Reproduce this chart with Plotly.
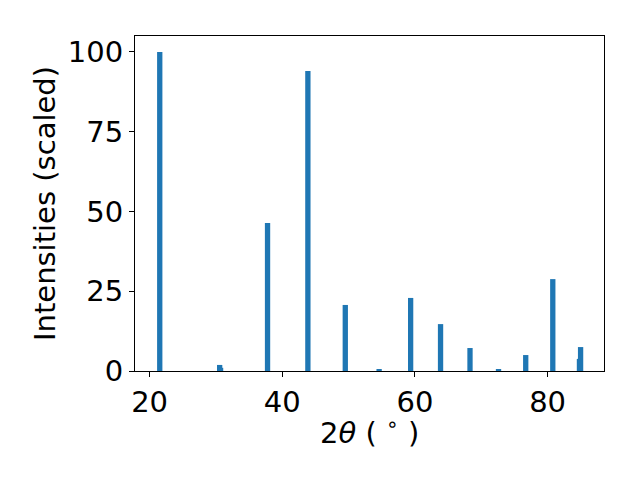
import plotly.graph_objects as go

two_theta = [21.53, 30.56, 30.70, 37.78, 43.86, 49.50, 54.60, 59.35, 63.86, 68.30, 72.60, 76.70, 80.78, 84.80, 84.97]
intensity = [100.0, 1.9, 1.0, 46.4, 94.0, 20.7, 0.6, 22.9, 14.7, 7.2, 0.4, 5.0, 28.8, 3.8, 7.5]
x_ticks = [20, 40, 60, 80]
y_ticks = [0, 25, 50, 75, 100]

fig = go.Figure(go.Bar(x=two_theta, y=intensity, width=0.8, marker=dict(color="#1f77b4", line=dict(width=0))))

font = dict(family="DejaVu Sans", size=29, color="black")
fig.update_layout(
    width=640, height=480,
    margin=dict(l=127, r=44, t=28, b=117),
    paper_bgcolor="white", plot_bgcolor="white",
    showlegend=False, barmode="overlay",
    font=font,
    xaxis=dict(range=[17.8, 88.5], tickvals=x_ticks, ticks="outside", ticklen=5, tickwidth=1, tickcolor="black",
               showline=True, linecolor="black", linewidth=1, mirror=True, showgrid=False, zeroline=False,
               automargin=False),
    yaxis=dict(range=[0, 105], tickvals=y_ticks, ticks="outside", ticklen=5, tickwidth=1, tickcolor="black",
               showline=True, linecolor="black", linewidth=1, mirror=True, showgrid=False, zeroline=False,
               automargin=False,
               title=dict(text="Intensities (scaled)", font=font, standoff=3)),
    annotations=[dict(text="2<i>θ</i> ( <sup>∘</sup> )", xref="paper", yref="paper", x=0.5, y=-0.18,
                      xanchor="center", yanchor="middle", showarrow=False, font=font)],
)
fig.write_html("out.html")
